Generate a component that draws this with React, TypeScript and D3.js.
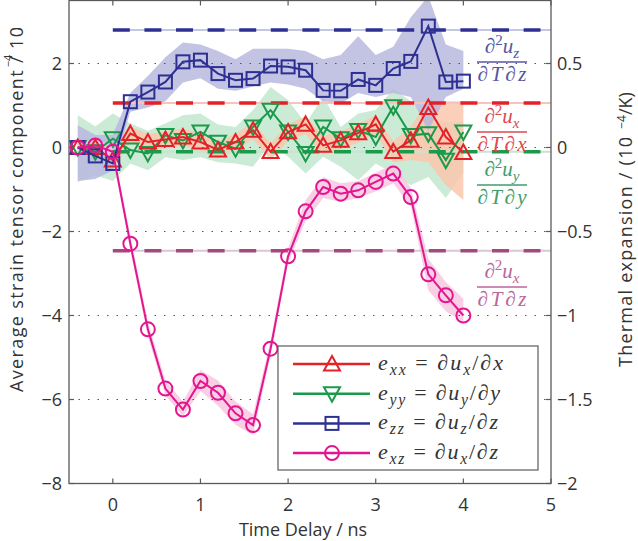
import React from "react";
import * as d3 from "d3";

// ---------- data ----------
const times = [-0.4, -0.2, 0, 0.2, 0.4, 0.6, 0.8, 1.0, 1.2, 1.4, 1.6, 1.8, 2.0, 2.2, 2.4, 2.6, 2.8, 3.0, 3.2, 3.4, 3.6, 3.8, 4.0];

const exx = [0, 0, -0.3, 0.33, 0.13, 0.19, 0.25, 0.13, -0.06, 0.13, 0.41, -0.1, 0.37, 0.55, 0.05, 0.17, 0.35, 0.55, -0.1, 0.17, 0.95, 0.25, -0.12];
const exxHi = [0.12, 0.12, -0.1, 0.5, 0.32, 0.38, 0.45, 0.33, 0.14, 0.32, 0.6, 0.1, 0.56, 0.74, 0.28, 0.38, 0.56, 0.76, 0.15, 0.5, 1.1, 1.1, 1.1];
const exxLo = [-0.12, -0.12, -0.5, 0.12, -0.08, -0.02, 0.04, -0.08, -0.26, -0.08, 0.2, -0.3, 0.16, 0.32, -0.18, -0.05, 0.12, 0.32, -0.35, -0.3, -0.35, -0.9, -1.25];

const eyy = [0, -0.1, 0.21, -0.06, -0.14, 0.29, 0.17, 0.37, 0.13, -0.03, 0.49, 0.89, 0.37, -0.14, 0.49, 0.21, 0.41, 0.25, 0.97, 0.29, 0.33, -0.3, 0.37];
const eyyHi = [0.77, 0.5, 0.81, 0.57, 0.4, 0.57, 0.77, 0.81, 0.55, 0.49, 0.89, 1.44, 1.13, 0.57, 1.2, 0.49, 0.81, 0.89, 1.4, 1.1, 0.7, 0.6, 0.6];
const eyyLo = [-0.82, -0.66, -0.8, -0.38, -0.54, -0.23, -0.3, -0.23, -0.35, -0.38, -0.46, 0.1, -0.22, -0.62, -0.22, -0.46, -0.78, -0.38, -0.62, -0.9, -0.7, -1.2, -0.6];

const ezz = [0, -0.2, -0.38, 1.09, 1.32, 1.56, 2.04, 2.08, 1.76, 1.6, 1.64, 1.94, 1.92, 1.84, 1.36, 1.35, 1.62, 1.48, 1.88, 2.05, 2.89, 1.56, 1.58];
const ezzHi = [0.53, 0.3, 0.3, 1.3, 1.7, 2.15, 2.5, 2.45, 2.3, 2.1, 2.35, 2.35, 2.35, 2.3, 2.1, 2.2, 2.65, 2.2, 2.4, 3.1, 3.6, 2.45, 2.3];
const ezzLo = [-0.8, -0.75, -0.55, 0.85, 0.95, 1.1, 1.55, 1.65, 1.4, 1.35, 1.45, 1.55, 1.5, 1.4, 1.1, 1.05, 1.3, 1.2, 1.3, 1.2, 0.4, 1.2, 1.4];

const exz = [0, 0.05, -0.1, -2.29, -4.33, -5.74, -6.24, -5.56, -5.84, -6.33, -6.61, -4.79, -2.59, -1.52, -0.94, -1.1, -1.02, -0.82, -0.62, -1.18, -3.02, -3.52, -4.0];
const exzHi = [0.15, 0.2, 0.05, -2.1, -4.15, -5.55, -6.05, -5.3, -5.55, -6.05, -6.35, -4.6, -2.4, -1.25, -0.7, -0.85, -0.8, -0.6, -0.4, -0.95, -2.65, -3.2, -3.6];
const exzLo = [-0.15, -0.1, -0.25, -2.45, -4.5, -5.9, -6.4, -5.8, -6.15, -6.6, -6.85, -4.95, -2.75, -1.75, -1.2, -1.3, -1.2, -1.05, -0.85, -1.4, -3.4, -3.9, -4.15];

// thermal expansion reference levels (right axis, 10^-4/K)
const thermalLevels = [0.7, 0.265, -0.026, -0.615];

const xTicks = [0, 1, 2, 3, 4, 5];
const yTicks = [-8, -6, -4, -2, 0, 2];
const yTickLabels = ["\u22128", "\u22126", "\u22124", "\u22122", "0", "2"];
const yRTicks = [-2, -1.5, -1, -0.5, 0, 0.5];
const yRTickLabels = ["\u22122", "\u22121.5", "\u22121", "\u22120.5", "0", "0.5"];
const gridTicks = [-6, -4, -2, 0, 2];

// ---------- layout ----------
const W = 638, H = 541;
const L = 69, R = 551, T = 0.5, B = 483.5;
const x = d3.scaleLinear().domain([-0.5, 5]).range([L, R]);
const y = d3.scaleLinear().domain([-8, 3.5]).range([B, T]);
const yR = d3.scaleLinear().domain([-2, 0.875]).range([B, T]);

const SANS = "'Open Sans', 'Noto Sans', sans-serif";
const SERIF = "'Liberation Serif', 'DejaVu Serif', serif";
const FRAME = "#5a5a5a";
const TXT = "#333";

type Seg = { t: string; sub?: boolean; sup?: boolean; up?: boolean };

function MathText({ segs, xPos, yPos, size, color, anchor = "start", len }: { segs: Seg[]; xPos: number; yPos: number; size: number; color: string; anchor?: string; len?: number }) {
  let cur = 0;
  const spans = segs.map((s, i) => {
    const target = s.sub ? size * 0.22 : s.sup ? -size * 0.38 : 0;
    const dy = target - cur;
    cur = target;
    return (
      <tspan key={i} dy={dy} fontSize={s.sub || s.sup ? size * 0.72 : size} fontStyle={s.up ? "normal" : "italic"}>
        {s.t}
      </tspan>
    );
  });
  const extra: any = len ? { textLength: len, lengthAdjust: "spacing" } : {};
  return (
    <text x={xPos} y={yPos} fill={color} fontFamily={SERIF} textAnchor={anchor} {...extra}>
      {spans}
    </text>
  );
}

function Marker({ kind, cx, cy, color }: { kind: string; cx: number; cy: number; color: string }) {
  const sw = 2;
  if (kind === "up") {
    const s = 8;
    return <path d={`M${cx},${cy - s} L${cx + s},${cy + s * 0.8} L${cx - s},${cy + s * 0.8} Z`} fill="none" stroke={color} strokeWidth={sw} />;
  }
  if (kind === "down") {
    const s = 8;
    return <path d={`M${cx},${cy + s} L${cx + s},${cy - s * 0.8} L${cx - s},${cy - s * 0.8} Z`} fill="none" stroke={color} strokeWidth={sw} />;
  }
  if (kind === "square") {
    const s = 6.5;
    return <rect x={cx - s} y={cy - s} width={2 * s} height={2 * s} fill="none" stroke={color} strokeWidth={sw} />;
  }
  return <circle cx={cx} cy={cy} r={7} fill="none" stroke={color} strokeWidth={sw} />;
}

const series = [
  { key: "eyy", vals: eyy, hi: eyyHi, lo: eyyLo, color: "#1b9a4b", band: "#bfe7cd", marker: "down" },
  { key: "exx", vals: exx, hi: exxHi, lo: exxLo, color: "#e32227", band: "#fbc4ab", marker: "up" },
  { key: "ezz", vals: ezz, hi: ezzHi, lo: ezzLo, color: "#2d3092", band: "#b6b6de", marker: "square" },
  { key: "exz", vals: exz, hi: exzHi, lo: exzLo, color: "#e2178f", band: "#f8c5df", marker: "circle" },
];

const levelStyles = [
  { color: "#2d3092", light: "#c5c6e3" },
  { color: "#e32227", light: "#f6c3bd" },
  { color: "#1b9a4b", light: "#c9e3d0" },
  { color: "#a3497e", light: "#d9c8d3" },
];

const legendRows = [
  { marker: "up", color: "#e32227", segs: [{ t: "e" }, { t: "xx", sub: true }, { t: " = \u2202", up: true }, { t: "u" }, { t: "x", sub: true }, { t: "/\u2202", up: true }, { t: "x" }] },
  { marker: "down", color: "#1b9a4b", segs: [{ t: "e" }, { t: "yy", sub: true }, { t: " = \u2202", up: true }, { t: "u" }, { t: "y", sub: true }, { t: "/\u2202", up: true }, { t: "y" }] },
  { marker: "square", color: "#2d3092", segs: [{ t: "e" }, { t: "zz", sub: true }, { t: " = \u2202", up: true }, { t: "u" }, { t: "z", sub: true }, { t: "/\u2202", up: true }, { t: "z" }] },
  { marker: "circle", color: "#e2178f", segs: [{ t: "e" }, { t: "xz", sub: true }, { t: " = \u2202", up: true }, { t: "u" }, { t: "x", sub: true }, { t: "/\u2202", up: true }, { t: "z" }] },
];
const legendLens = [125, 122, 120, 120];

const fracLabels = [
  { color: "#5656a6", num: "z", den: "z", yLine: 62 },
  { color: "#dd4950", num: "x", den: "x", yLine: 132 },
  { color: "#3f9d69", num: "y", den: "y", yLine: 185 },
  { color: "#b9679a", num: "x", den: "z", yLine: 287 },
];

export default function App() {
  const line = d3.line<number>().x((_, i) => x(times[i])).y((v) => y(v));
  const area = (hi: number[], lo: number[]) =>
    d3.area<number>().x((_, i) => x(times[i])).y0((_, i) => y(lo[i])).y1((_, i) => y(hi[i]))(hi) || "";

  return (
    <svg width={W} height={H} style={{ position: "absolute", left: 0, top: 0, background: "#fff" }}>
      <defs>
        <clipPath id="plot">
          <rect x={L} y={T} width={R - L} height={B - T} />
        </clipPath>
      </defs>
      <rect x={0} y={0} width={W} height={H} fill="#fff" />

      <g clipPath="url(#plot)">
        {series.map((s) => (
          <path key={"b" + s.key} d={area(s.hi, s.lo)} fill={s.band} fillOpacity={0.82} />
        ))}
        {gridTicks.map((t) => (
          <line key={"g" + t} x1={L} x2={R} y1={y(t)} y2={y(t)} stroke="#555" strokeWidth={1.2} strokeDasharray="1.5 8" />
        ))}
        {thermalLevels.map((v, i) => (
          <g key={"lv" + i}>
            <line x1={x(0)} x2={x(5)} y1={yR(v)} y2={yR(v)} stroke={levelStyles[i].light} strokeWidth={2} />
            <line x1={x(0)} x2={x(4.88)} y1={yR(v)} y2={yR(v)} stroke={levelStyles[i].color} strokeWidth={3.5} strokeDasharray="17 14.6" />
          </g>
        ))}
        {series.map((s) => (
          <g key={"s" + s.key}>
            <path d={line(s.vals) || ""} fill="none" stroke={s.color} strokeWidth={2} />
            {s.vals.map((v, i) => (
              <Marker key={i} kind={s.marker} cx={x(times[i])} cy={y(v)} color={s.color} />
            ))}
          </g>
        ))}
      </g>

      {/* fraction labels */}
      {fracLabels.map((f, i) => (
        <g key={"f" + i}>
          <MathText
            segs={[{ t: "\u2202", up: true }, { t: "2", sup: true, up: true }, { t: "u" }, { t: f.num, sub: true }]}
            xPos={502}
            yPos={f.yLine - 9}
            size={21}
            color={f.color}
            anchor="middle"
          />
          <line x1={477} x2={527} y1={f.yLine} y2={f.yLine} stroke={f.color} strokeWidth={1.6} />
          <MathText
            segs={[{ t: "\u2202", up: true }, { t: "T" }, { t: "\u2202", up: true }, { t: f.den }]}
            xPos={502}
            yPos={f.yLine + 19}
            size={21}
            color={f.color}
            anchor="middle"
            len={49}
          />
        </g>
      ))}

      {/* frame */}
      <rect x={L} y={T} width={R - L} height={B - T} fill="none" stroke={FRAME} strokeWidth={1.3} />
      {xTicks.map((t) => (
        <g key={"xt" + t}>
          <line x1={x(t)} x2={x(t)} y1={B} y2={B - 5} stroke={FRAME} strokeWidth={1.2} />
          <line x1={x(t)} x2={x(t)} y1={T} y2={T + 5} stroke={FRAME} strokeWidth={1.2} />
          <text x={x(t)} y={511} textAnchor="middle" fontFamily={SANS} fontSize={18} fill={TXT}>
            {t}
          </text>
        </g>
      ))}
      {yTicks.map((t, i) => (
        <g key={"yt" + t}>
          <line x1={L} x2={L + 5} y1={y(t)} y2={y(t)} stroke={FRAME} strokeWidth={1.2} />
          <text x={62} y={y(t) + 6.5} textAnchor="end" fontFamily={SANS} fontSize={18} fill={TXT}>
            {yTickLabels[i]}
          </text>
        </g>
      ))}
      {yRTicks.map((t, i) => (
        <g key={"yr" + t}>
          <line x1={R} x2={R - 5} y1={yR(t)} y2={yR(t)} stroke={FRAME} strokeWidth={1.2} />
          <text x={557} y={yR(t) + 6.5} textAnchor="start" fontFamily={SANS} fontSize={18} fill={TXT}>
            {yRTickLabels[i]}
          </text>
        </g>
      ))}

      {/* axis labels */}
      <text x={303} y={536} textAnchor="middle" fontFamily={SANS} fontSize={18} fill={TXT}>
        Time Delay / ns
      </text>
      <text transform="translate(23,392) rotate(-90)" fontFamily={SANS} fontSize={18} fill={TXT} textLength={365} lengthAdjust="spacing">
        Average strain tensor component / 10
      </text>
      <text transform="translate(12,61) rotate(-90)" textAnchor="middle" fontFamily={SANS} fontSize={11} fill={TXT}>
        {"\u22124"}
      </text>
      <text transform="translate(632,367) rotate(-90)" fontFamily={SANS} fontSize={18} fill={TXT} textLength={230} lengthAdjust="spacing">
        Thermal expansion / (10
      </text>
      <text transform="translate(626,122) rotate(-90)" textAnchor="middle" fontFamily={SANS} fontSize={12} fill={TXT}>
        {"\u22124"}
      </text>
      <text transform="translate(632,115) rotate(-90)" fontFamily={SANS} fontSize={18} fill={TXT}>
        /K)
      </text>

      {/* legend */}
      <rect x={278} y={346} width={260} height={124} fill="#fff" stroke={FRAME} strokeWidth={1.2} />
      {legendRows.map((r, i) => {
        const ry = 364 + i * 29.7;
        return (
          <g key={"lg" + i}>
            <line x1={293} x2={370} y1={ry} y2={ry} stroke={r.color} strokeWidth={2.5} />
            <Marker kind={r.marker} cx={332} cy={ry} color={r.color} />
            <MathText segs={r.segs} xPos={378} yPos={ry + 6} size={22} color={TXT} len={legendLens[i]} />
          </g>
        );
      })}
    </svg>
  );
}
